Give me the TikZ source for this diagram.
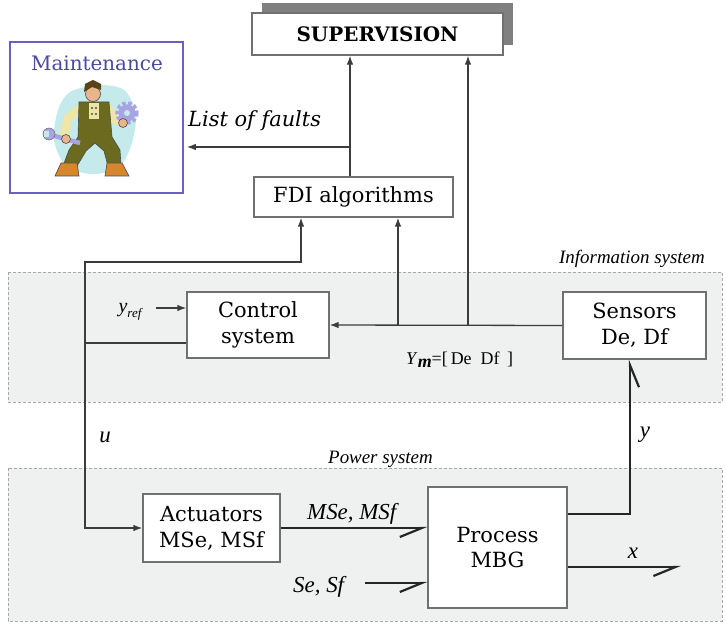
\documentclass[tikz,border=0pt]{standalone}
\usepackage{fontspec}
\setmainfont{DejaVu Serif}
\newfontfamily\tms{Liberation Serif}
\usetikzlibrary{arrows.meta,calc}

\definecolor{wire}{HTML}{3C3C3C}
\definecolor{boxline}{HTML}{707070}
\definecolor{bandfill}{HTML}{EFF0F0}
\definecolor{bandline}{HTML}{A8A8A8}
\definecolor{shadowgray}{HTML}{808080}
\definecolor{maintline}{HTML}{6A5FC8}
\definecolor{mainttext}{HTML}{4A4AA0}
\definecolor{blobc}{HTML}{C4EAEC}
\definecolor{overall}{HTML}{6B6A1E}
\definecolor{shirt}{HTML}{EEE6A8}
\definecolor{skin}{HTML}{E9B58A}
\definecolor{hair}{HTML}{5A4318}
\definecolor{boot}{HTML}{D7862C}
\definecolor{tool}{HTML}{A8A3E2}

\tikzset{
  block/.style={draw=boxline, fill=white, line width=1.2bp, align=center,
    inner sep=0pt, font=\fontsize{21}{26}\selectfont},
  arr/.style={draw=wire, line width=1.3bp, -{Latex[length=9bp,width=6.5bp]}},
  wireline/.style={draw=wire, line width=1.3bp},
  bond/.style={draw=black!85, line width=2.2bp,
    -{Straight Barb[harpoon,swap,length=22bp,width=18bp,line width=2.2bp]}},
  band/.style={fill=bandfill, draw=bandline, line width=0.8bp, dash pattern=on 3bp off 2bp},
  lbl/.style={font=\tms\itshape\fontsize{19}{22}\selectfont, inner sep=0pt},
  sig/.style={font=\tms\itshape\fontsize{23}{26}\selectfont, inner sep=0pt},
  figline/.style={draw=black!70, line width=0.6bp},
}

\begin{document}
\begin{tikzpicture}[x=1bp, y=-1bp]
\useasboundingbox (0,0) rectangle (726,624);

% system bands
\path[band] (8,272) rectangle (722,402);
\path[band] (8,468) rectangle (722,621);
\node[lbl, anchor=base east] (infolbl) at (705,263) {Information system};
\node[lbl, anchor=base east] (powerlbl) at (433,463) {Power system};

% supervision with its drop shadow
\fill[shadowgray] (262,3) rectangle (513,45);
\node[block, minimum width=251bp, minimum height=42bp,
  font=\bfseries\fontsize{20}{24}\selectfont] (sup) at (377.5,34) {SUPERVISION};

% maintenance frame
\node[draw=maintline, line width=1.6bp, fill=white, minimum width=173bp,
  minimum height=151bp, inner sep=0pt] (maint) at (96.5,117.5) {};
\node[text=mainttext, font=\fontsize{20}{24}\selectfont, inner sep=0pt]
  (mainttitle) at (97,63) {Maintenance};

% worker figure
\fill[blobc] plot[smooth cycle] coordinates {(58,110) (70,92) (98,85) (124,90) (136,114)
  (131,146) (118,168) (92,174) (66,166) (54,140)};
% arms
\draw[shirt, line width=9bp, line cap=round] (82,107) -- (68,118) -- (64,134);
\draw[shirt, line width=9bp, line cap=round] (106,107) -- (116,120) -- (123,122);
% overalls
\filldraw[fill=overall, figline]
  (79,102) -- (109,102) -- (112,137) -- (120,150) -- (121,166) -- (108,166)
  -- (104,151) -- (95,143) -- (86,151) -- (77,166) -- (63,166) -- (69,150)
  -- (78,137) -- cycle;
\fill[shirt] (89,103) rectangle (99,119);
\fill[black!70] (92,108) circle (1.2) (92,114) circle (1.2) (96,108) circle (1.2) (96,114) circle (1.2);
% boots
\filldraw[fill=boot, figline] (61,163) -- (77,163) -- (79,176) -- (55,176) -- cycle;
\filldraw[fill=boot, figline] (107,163) -- (122,163) -- (129,176) -- (105,176) -- cycle;
% head and cap
\filldraw[fill=skin, figline] (93,94) circle (7.5);
\fill[hair] (84,92) -- (85,84) -- (93,80) -- (101,84) -- (101,90) -- (92,87) -- cycle;
% wrench in the left hand
\draw[tool, line width=4.5bp] (51,135) -- (80,143);
\filldraw[fill=tool, draw=black!60, line width=0.5bp] (49,134) circle (6);
\fill[blobc] (44,131) rectangle (49,137);
\filldraw[fill=skin, figline] (66,139) circle (4.5);
% gear in the right hand
\draw[tool, line width=3.5bp, dash pattern=on 3.5bp off 2.5bp] (127,113) circle (10);
\fill[tool] (127,113) circle (8.5);
\fill[blobc] (127,113) circle (3);
\filldraw[fill=skin, figline] (123,123) circle (4.5);

% FDI and list of faults
\node[block, minimum width=199bp, minimum height=40bp] (fdi) at (353.5,197) {FDI algorithms};
\coordinate (fsplit) at (350,147);
\draw[arr] (fdi.north -| fsplit) -- (fsplit |- sup.south);
\draw[arr] (fsplit) -- ($(maint.east |- fsplit)+(3,0)$);
\node[font=\itshape\fontsize{21}{24}\selectfont, inner sep=0pt, anchor=base west]
  (faults) at (188,127) {List of faults};

% information system blocks
\node[block, minimum width=142bp, minimum height=66bp] (ctrl) at (258,325) {Control\\system};
\node[block, minimum width=143bp, minimum height=67bp] (sens) at (634.5,325.5) {Sensors\\De, Df};

\draw[arr] (sens.west) -- (ctrl.east);
\coordinate (mA) at (398,325);
\coordinate (mB) at (468,325);
\draw[arr] (mA) -- (mA |- fdi.south);
\draw[arr] (mB) -- (mB |- sup.south);
\node[inner sep=0pt, anchor=base west, font=\tms\fontsize{18}{20}\selectfont] (ym) at (406,364)
  {\textit{Y}\raisebox{-3bp}{\textbf{\textit{m}}}{=}[\,De\ \ Df\,\ ]};

\node[sig, font=\tms\itshape\fontsize{20}{22}\selectfont] (yref) at (130,312) {y\raisebox{-5bp}{\fontsize{13}{14}\selectfont ref}};
\coordinate (yrs) at (156,308);
\draw[arr] (yrs) -- (yrs -| ctrl.west);

% control signal u
\coordinate (uj) at (85,343);
\coordinate (ufdi) at (301,262);
\draw[wireline] (ctrl.west |- uj) -- (uj);
\draw[arr] (uj) |- (ufdi) -- (ufdi |- fdi.south);
\node[block, minimum width=137bp, minimum height=68bp] (act) at (211.5,528) {Actuators\\MSe, MSf};
\draw[arr] (uj) |- (act.west);
\node[sig] (ulbl) at (105,437) {u};

% power system
\node[block, minimum width=139bp, minimum height=121bp] (proc) at (497.5,547.5) {Process\\MBG};
\draw[bond] (act.east) -- (act.east -| proc.west);
\node[sig, anchor=base west] (msemsf) at (307,519) {MSe, MSf};
\coordinate (sein) at (365,583);
\draw[bond] (sein) -- (sein -| proc.west);
\node[sig, anchor=base west] (sesf) at (293,592) {Se, Sf};

\coordinate (ycorner) at (630,514);
\draw[bond] (ycorner -| proc.east) -- (ycorner) -- (ycorner |- sens.south);
\node[sig] (ylbl) at (645,435) {y};

\coordinate (xend) at (681,567);
\draw[bond] (xend -| proc.east) -- (xend);
\node[sig] (xlbl) at (633,553) {x};

\end{tikzpicture}
\end{document}
